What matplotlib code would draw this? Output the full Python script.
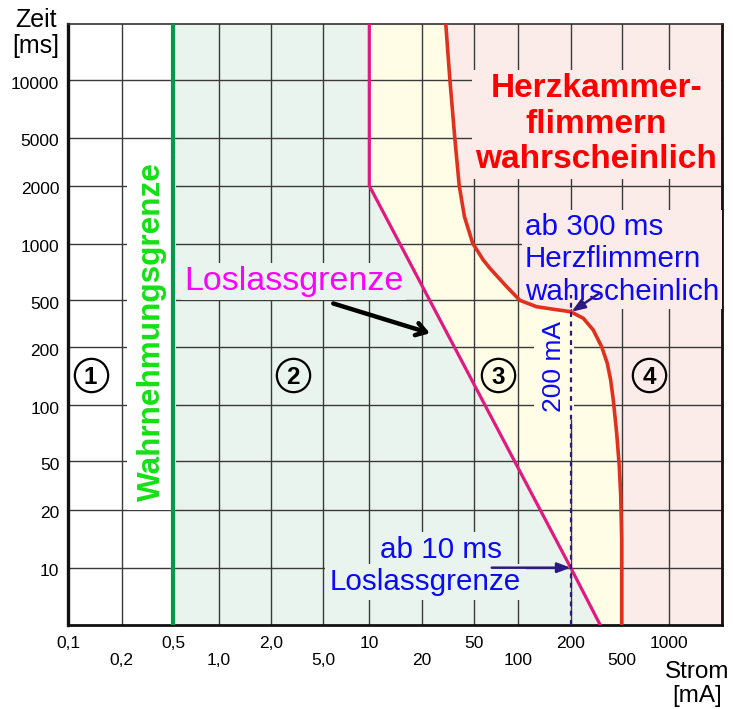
import matplotlib
matplotlib.use('Agg')
import matplotlib.pyplot as plt
from matplotlib.transforms import ScaledTranslation
import numpy as np

plt.rcParams['font.family'] = ['Liberation Sans', 'DejaVu Sans']

# Raster der Vorlage: Werte und Abstand (px) vom Achsenursprung
x_grid_val = [0.1, 0.2, 0.5, 1, 2, 5, 10, 20, 50, 100, 200, 500, 1000, 2000]
x_grid_pos = [0, 53.7, 105.3, 150.7, 203, 255.3, 301.3, 353.7, 406, 450.3, 502.7, 553.7, 601.3, 653.7]
y_grid_val = [5, 10, 20, 50, 100, 200, 500, 1000, 2000, 5000, 10000, 20000]
y_grid_pos = [0, 57.3, 115, 164, 220, 277.7, 324.7, 381, 439.3, 487.3, 544.7, 601]

x_major = [0.1, 0.5, 2, 10, 50, 200, 1000]
x_major_labels = ['0,1', '0,5', '2,0', '10', '50', '200', '1000']
x_minor = [0.2, 1, 5, 20, 100, 500]
x_minor_labels = ['0,2', '1,0', '5,0', '20', '100', '500']
y_ticks = [10, 20, 50, 100, 200, 500, 1000, 2000, 5000, 10000]
y_labels = ['10', '20', '50', '100', '200', '500', '1000', '2000', '5000', '10000']

# Kurven (Strom in mA, Zeit in ms)
perception_ma = 0.5
letgo_ma = [10, 10, 200, 340]
letgo_ms = [20000, 2000, 10, 5]
fibr_ma = [30.5, 32.8, 35.7, 38.6, 42.3, 48.9, 57.8, 64.2, 83.4, 102, 127.6, 159,
           200, 251, 300, 349, 386, 410, 430, 457, 479, 491, 500, 500]
fibr_ms = [20000, 10000, 5000, 2000, 1383, 1008, 821, 741, 591, 500, 441, 420,
           400, 352, 280, 202, 165, 135, 106, 70.4, 44.9, 26.5, 13.9, 5]
limit_ma = 200
limit_ms_top = 533

# Zonen-Nummern
zone_ma = [0.134, 2.94, 73, 744]
zone_ms = [143, 143, 143, 143]
zone_labels = ['1', '2', '3', '4']

c_green_bg = '#e9f4ee'
c_yellow_bg = '#fffde6'
c_pink_bg = '#fcece9'
c_grid = '#3a3a3a'
c_navy = '#2d1a80'
c_blue = '#0a0af5'


def make_scale(vals, pos):
    lv = np.log10(vals)

    def fwd(v):
        v = np.clip(np.asarray(v, dtype=float), 1e-9, None)
        return np.interp(np.log10(v), lv, pos)

    def inv(p):
        return 10 ** np.interp(np.asarray(p, dtype=float), pos, lv)
    return fwd, inv


fig = plt.figure(figsize=(7.33, 7.09), dpi=100)
ax = fig.add_axes([68 / 733, 84 / 709, 653.7 / 733, 601 / 709])
ax.set_xscale('function', functions=make_scale(x_grid_val, x_grid_pos))
ax.set_yscale('function', functions=make_scale(y_grid_val, y_grid_pos))
ax.set_xlim(x_grid_val[0], x_grid_val[-1])
ax.set_ylim(y_grid_val[0], y_grid_val[-1])

x_lo, x_hi = x_grid_val[0], x_grid_val[-1]
y_lo, y_hi = y_grid_val[0], y_grid_val[-1]

# Hintergrundzonen
ax.fill(fibr_ma + [x_hi, x_hi], fibr_ms + [y_lo, y_hi], color=c_pink_bg, lw=0, zorder=0.5)
ax.fill([perception_ma] + fibr_ma + [perception_ma], [y_hi] + fibr_ms + [y_lo],
        color=c_yellow_bg, lw=0, zorder=0.6)
ax.fill([perception_ma] + letgo_ma + [perception_ma], [y_hi] + letgo_ms + [y_lo],
        color=c_green_bg, lw=0, zorder=0.7)

# Achsen / Raster
ax.set_xticks(x_major)
ax.set_xticklabels(x_major_labels)
ax.set_xticks(x_minor, minor=True)
ax.set_xticklabels(x_minor_labels, minor=True)
ax.set_yticks(y_ticks)
ax.set_yticklabels(y_labels)
ax.yaxis.set_minor_locator(matplotlib.ticker.NullLocator())
ax.grid(True, which='both', color=c_grid, lw=1.0)
ax.tick_params(which='both', length=0, labelsize=12.5, colors='black')
ax.tick_params(axis='x', which='major', pad=8.2)
ax.tick_params(axis='x', which='minor', pad=20)
ax.tick_params(axis='y', pad=6.3)
shift = ScaledTranslation(0, -2.5 / 100, fig.dpi_scale_trans)
for lab in ax.get_yticklabels():
    lab.set_transform(lab.get_transform() + shift)
for side in ['left', 'bottom', 'right']:
    ax.spines[side].set_linewidth(2.0)
    ax.spines[side].set_color('#111111')
ax.spines['left'].set_linewidth(2.4)
ax.spines['top'].set_linewidth(1.2)
ax.spines['top'].set_color('#333333')

# Kurven
ax.axvline(perception_ma, color='#009a48', lw=3.0, zorder=4)
ax.plot(letgo_ma, letgo_ms, color='#e3197f', lw=2.3, zorder=3.5, solid_joinstyle='miter')
ax.plot(fibr_ma, fibr_ms, color='#e0301e', lw=2.6, zorder=3.5, solid_joinstyle='round')
ax.plot([limit_ma, limit_ma], [y_lo, limit_ms_top], color=c_navy, lw=1.6,
        ls=(0, (2.2, 2.0)), zorder=4)

# Texte
ax.text(0.342, 272, 'Wahrnehmungsgrenze', rotation=90, ha='center', va='center',
        fontsize=22.7, fontweight='bold', color='#14e014', zorder=3,
        bbox=dict(boxstyle='square,pad=0.3', fc='white', ec='none'))
ax.text(2.97, 567, 'Loslassgrenze', ha='center', va='baseline', fontsize=24.5,
        color='#ff00ff', zorder=3,
        bbox=dict(boxstyle='square,pad=0.08', fc=c_green_bg, ec='none'))
ax.text(318, 10900, 'Herzkammer-\nflimmern\nwahrscheinlich', ha='center', va='top',
        fontsize=24, fontweight='bold', color='#ff0000', linespacing=1.19, zorder=3,
        bbox=dict(boxstyle='square,pad=0.1', fc=c_pink_bg, ec='none'))
ax.text(109, 1446, 'ab 300 ms\nHerzflimmern\nwahrscheinlich', ha='left', va='top',
        fontsize=21.3, color=c_blue, linespacing=1.2, zorder=3,
        bbox=dict(boxstyle='square,pad=0.1', fc=c_pink_bg, ec='none'))
ax.text(28, 11.2, 'ab 10 ms', ha='center', va='baseline', fontsize=21.3,
        color=c_blue, zorder=3,
        bbox=dict(boxstyle='square,pad=0.15', fc=c_green_bg, ec='none'))
ax.text(21.4, 7.64, 'Loslassgrenze', ha='center', va='baseline', fontsize=21.3,
        color=c_blue, zorder=3,
        bbox=dict(boxstyle='square,pad=0.15', fc=c_green_bg, ec='none'))
ax.text(160, 158, '200 mA', rotation=90, ha='center', va='center', fontsize=19,
        color=c_blue, zorder=3,
        bbox=dict(boxstyle='square,pad=0.3', fc=c_yellow_bg, ec='none'))

# Pfeile
ax.annotate('', xy=(23.1, 263), xytext=(5.81, 470), zorder=5,
            arrowprops=dict(arrowstyle='->,head_length=0.7,head_width=0.45',
                            color='black', lw=3.2, shrinkA=0, shrinkB=0))
ax.annotate('', xy=(200, 10), xytext=(66, 10), zorder=5,
            arrowprops=dict(arrowstyle='-|>,head_length=0.8,head_width=0.3',
                            color=c_navy, lw=1.8, shrinkA=0, shrinkB=0))
ax.annotate('', xy=(203, 400), xytext=(334, 544), zorder=5,
            arrowprops=dict(arrowstyle='-|>,head_length=0.8,head_width=0.3',
                            color=c_navy, lw=1.8, shrinkA=0, shrinkB=0))

# Zonen-Kreise
ax.plot(zone_ma, zone_ms, 'o', ms=24, mfc='none', mec='black', mew=1.6, zorder=5)
for zx, zy, zl in zip(zone_ma, zone_ms, zone_labels):
    ax.text(zx, zy, zl, ha='center', va='center_baseline', fontsize=17.5,
            fontweight='bold', color='black', zorder=6)

# Achsentitel
fig.text(35.5 / 733, 1 - 8 / 709, 'Zeit\n[ms]', ha='center', va='top', fontsize=18,
         linespacing=1.12)
fig.text(697 / 733, 1 - 661 / 709, 'Strom\n[mA]', ha='center', va='top', fontsize=17.5,
         linespacing=1.12)

fig.savefig('out.png', dpi=100)
